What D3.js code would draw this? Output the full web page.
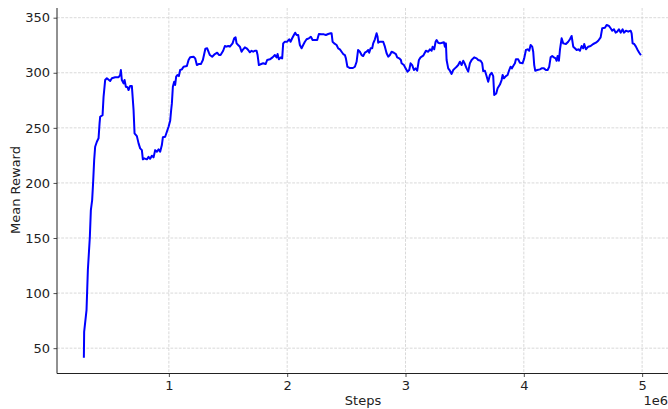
<!DOCTYPE html>
<html>
<head>
<meta charset="utf-8">
<script src="https://cdn.jsdelivr.net/npm/d3@7"></script>
<style>
  html, body { margin: 0; padding: 0; background: #fff; }
  svg { display: block; font-family: "DejaVu Sans", sans-serif; }
</style>
</head>
<body>
<svg id="chart" width="668" height="409"></svg>
<script>
// Training curve: smoothed mean episode reward against environment steps
const steps = [
  281500, 284000, 304000, 315300, 332200, 340700, 351600, 360100, 368600, 377000,
  391400, 405700, 414200, 419300, 439600, 448000, 461500, 475900, 503800, 518200,
  546100, 574800, 588300, 594300, 602700, 617100, 625500, 636500, 650900, 659300,
  672900, 687200, 701600, 710000, 729500, 743900, 757400, 771800, 780200, 791200,
  814000, 828400, 841900, 856300, 870700, 884200, 898600, 912900, 926500, 940800,
  949300, 968700, 983100, 997500, 1011000, 1019400, 1025400, 1033800, 1044800, 1053200,
  1061700, 1073500, 1084500, 1095500, 1109900, 1124200, 1152100, 1166500, 1180000, 1208800,
  1222300, 1236700, 1251000, 1270500, 1287400, 1308500, 1323700, 1338100, 1346600, 1366000,
  1388800, 1408300, 1425200, 1437000, 1459000, 1473400, 1487700, 1501300, 1515600, 1538400,
  1552000, 1563800, 1572300, 1585800, 1600200, 1614500, 1628000, 1642400, 1656800, 1670300,
  1684700, 1699100, 1712600, 1727000, 1741300, 1749800, 1760800, 1775100, 1797100, 1817400,
  1830900, 1853700, 1876600, 1896000, 1910400, 1918800, 1929800, 1946700, 1957700, 1966200,
  1980600, 2000000, 2016900, 2028700, 2042200, 2056600, 2067600, 2079400, 2093000, 2107300,
  2121700, 2135200, 2149600, 2164000, 2183400, 2200300, 2214700, 2234100, 2253600, 2268000,
  2290800, 2310200, 2327100, 2346600, 2366800, 2375300, 2383700, 2397300, 2417500, 2431100,
  2445500, 2459800, 2473400, 2487700, 2496200, 2508900, 2530000, 2555300, 2572200, 2586600,
  2599300, 2614500, 2628900, 2642400, 2656800, 2671100, 2684700, 2693100, 2705000, 2718500,
  2727000, 2741400, 2755700, 2764100, 2769200, 2783600, 2811500, 2825800, 2840200, 2853700,
  2868100, 2882500, 2901900, 2918800, 2929800, 2946700, 2961100, 2967000, 2986500, 3000800,
  3017700, 3031300, 3043100, 3056600, 3071000, 3085300, 3098900, 3113200, 3127600, 3149600,
  3172400, 3191900, 3206200, 3220600, 3229100, 3242600, 3254400, 3262900, 3276400, 3290800,
  3310300, 3324600, 3333100, 3341500, 3347400, 3361000, 3375300, 3389700, 3403200, 3417600,
  3431900, 3445500, 3459800, 3474200, 3487700, 3502100, 3516400, 3530000, 3544300, 3558700,
  3580700, 3601000, 3614500, 3634800, 3648300, 3656700, 3671100, 3683800, 3699000, 3713400,
  3727800, 3741300, 3749800, 3766700, 3778500, 3798000, 3812300, 3820800, 3831800, 3848700,
  3863100, 3876600, 3888400, 3899400, 3910400, 3924800, 3933200, 3952700, 3967000, 3989900,
  4003400, 4017700, 4032100, 4045600, 4057400, 4071000, 4079400, 4087900, 4096300, 4113200,
  4136100, 4150400, 4169900, 4186800, 4201100, 4214700, 4226500, 4240000, 4254400, 4268800,
  4277200, 4285700, 4296700, 4305200, 4319500, 4333000, 4355900, 4375300, 4389700, 4404000,
  4417600, 4432000, 4446300, 4459900, 4474200, 4488600, 4502100, 4510500, 4524900, 4544400,
  4564600, 4586600, 4609400, 4628900, 4649200, 4662700, 4685500, 4699900, 4719300, 4733700,
  4747200, 4761600, 4775900, 4789500, 4803800, 4818200, 4835100, 4846100, 4863000, 4882400,
  4902700, 4911200, 4919600, 4933200, 4947600, 4961900, 4975400, 4989900
];
const meanReward = [
  41.2, 64.8, 84.5, 120.8, 151.1, 175.3, 184.4, 201.0, 220.7, 232.8,
  237.4, 240.5, 254.1, 260.1, 261.6, 278.2, 293.4, 295.0, 292.5, 295.0,
  295.9, 295.9, 298.0, 302.5, 293.4, 290.4, 293.4, 287.3, 286.8, 284.3,
  288.0, 288.0, 266.2, 245.0, 242.5, 235.9, 231.4, 229.8, 221.4, 222.3,
  221.4, 223.7, 221.9, 224.7, 223.2, 229.8, 228.3, 230.5, 228.3, 234.4,
  241.4, 241.9, 246.5, 251.0, 256.4, 266.2, 272.2, 287.3, 291.9, 288.9,
  296.4, 298.0, 297.0, 302.5, 303.1, 305.5, 306.1, 311.6, 314.0, 314.6,
  313.1, 307.0, 307.9, 307.9, 311.6, 321.8, 322.2, 318.2, 316.1, 314.6,
  317.0, 318.2, 316.1, 316.1, 320.0, 324.3, 323.7, 324.3, 323.7, 326.7,
  331.3, 332.2, 326.7, 325.2, 323.7, 319.1, 321.3, 323.1, 322.2, 320.7,
  318.6, 320.0, 319.1, 320.0, 320.0, 316.1, 307.0, 307.7, 308.6, 307.9,
  311.6, 312.2, 314.0, 316.1, 314.0, 317.0, 312.2, 314.0, 313.1, 326.7,
  328.2, 328.2, 330.4, 328.2, 331.3, 334.3, 336.4, 334.3, 334.3, 325.2,
  322.2, 325.2, 328.2, 330.4, 331.3, 332.7, 329.7, 329.7, 329.7, 335.2,
  334.9, 334.9, 334.3, 335.2, 335.8, 335.8, 328.2, 326.7, 325.2, 322.2,
  321.3, 319.1, 317.0, 316.1, 313.1, 305.5, 304.3, 304.3, 305.5, 310.0,
  320.7, 319.1, 316.1, 315.2, 318.2, 319.1, 320.7, 318.2, 322.2, 322.2,
  326.7, 330.4, 335.8, 332.7, 327.3, 328.2, 328.2, 323.7, 317.7, 314.6,
  316.1, 319.1, 318.2, 317.0, 314.0, 313.1, 311.6, 308.6, 307.0, 304.0,
  301.0, 302.5, 308.6, 307.0, 302.5, 304.0, 301.9, 311.6, 314.0, 315.5,
  320.0, 319.1, 321.3, 320.0, 323.7, 321.3, 328.2, 329.7, 327.3, 326.7,
  327.3, 327.7, 323.7, 326.7, 311.6, 304.0, 301.9, 298.9, 302.5, 304.0,
  305.5, 307.0, 310.0, 307.0, 310.9, 307.9, 304.0, 301.0, 308.6, 311.6,
  314.0, 313.1, 311.6, 310.9, 308.6, 301.6, 301.9, 297.5, 291.9, 298.0,
  300.0, 297.0, 279.8, 281.2, 285.9, 289.3, 293.4, 298.0, 295.0, 297.0,
  298.0, 302.5, 305.5, 304.0, 306.1, 308.6, 312.2, 312.2, 309.1, 308.6,
  313.1, 320.7, 321.3, 320.0, 325.2, 323.7, 319.1, 307.0, 301.9, 302.5,
  303.1, 304.0, 304.0, 302.5, 302.5, 305.5, 314.0, 315.2, 314.0, 313.1,
  310.9, 315.2, 310.9, 320.7, 331.3, 326.7, 326.1, 328.2, 330.4, 333.4,
  323.7, 322.2, 320.7, 321.3, 320.0, 324.3, 322.2, 326.1, 321.3, 323.7,
  324.3, 326.1, 327.3, 329.1, 332.2, 340.4, 340.9, 343.4, 342.5, 340.4,
  338.2, 339.5, 336.4, 337.3, 339.5, 336.4, 339.5, 336.4, 338.2, 337.3,
  338.2, 335.8, 326.7, 326.1, 323.7, 320.7, 318.2, 316.1
];
const xTickValues = [1000000, 2000000, 3000000, 4000000, 5000000];
const yTickValues = [50, 100, 150, 200, 250, 300, 350];
const xLabel = "Steps";
const yLabel = "Mean Reward";
const xOffsetLabel = "1e6";

const svg = d3.select("#chart");
const plot = { left: 57, right: 670, top: 8, bottom: 373.5 };

const x = d3.scaleLinear().domain([54500, 5235500]).range([plot.left, plot.right]);
const y = d3.scaleLinear().domain([27, 358.8]).range([plot.bottom, plot.top]);

// dashed grid
const grid = svg.append("g").attr("stroke", "#cfcfcf").attr("stroke-width", 0.8)
  .attr("stroke-dasharray", "2.8,1.4");
grid.selectAll("line.gx").data(xTickValues).join("line")
  .attr("x1", d => x(d)).attr("x2", d => x(d))
  .attr("y1", plot.top).attr("y2", plot.bottom);
grid.selectAll("line.gy").data(yTickValues).join("line")
  .attr("x1", plot.left).attr("x2", plot.right)
  .attr("y1", d => y(d)).attr("y2", d => y(d));

// reward curve
const line = d3.line().x((d, i) => x(steps[i])).y(d => y(d));
svg.append("path")
  .datum(meanReward)
  .attr("d", line)
  .attr("fill", "none")
  .attr("stroke", "#0000ff")
  .attr("stroke-width", 2)
  .attr("stroke-linejoin", "round")
  .attr("stroke-linecap", "butt");

// axes
const xAxis = d3.axisBottom(x).tickValues(xTickValues)
  .tickFormat(d => d3.format("d")(d / 1e6)).tickSize(3.5).tickPadding(3.5);
const yAxis = d3.axisLeft(y).tickValues(yTickValues).tickSize(3.5).tickPadding(3.5);

const gx = svg.append("g").attr("transform", `translate(0,${plot.bottom})`).call(xAxis);
const gy = svg.append("g").attr("transform", `translate(${plot.left},0)`).call(yAxis);
[gx, gy].forEach(g => {
  g.select(".domain").attr("stroke", "#222").attr("stroke-width", 1);
  g.selectAll(".tick line").attr("stroke", "#222").attr("stroke-width", 0.8);
  g.selectAll(".tick text").attr("fill", "#222").attr("font-size", 13)
    .attr("font-family", "DejaVu Sans, sans-serif");
});
gy.select(".domain").attr("d", `M0,${plot.top}V${plot.bottom}`);
gx.select(".domain").attr("d", `M${plot.left},0H${plot.right}`);

// axis labels
svg.append("text").attr("x", 363).attr("y", 405).attr("text-anchor", "middle")
  .attr("font-size", 13).attr("fill", "#222").text(xLabel);
svg.append("text").attr("transform", "translate(20,190) rotate(-90)")
  .attr("text-anchor", "middle").attr("font-size", 13).attr("fill", "#222").text(yLabel);
svg.append("text").attr("x", 668).attr("y", 405).attr("text-anchor", "end")
  .attr("font-size", 13).attr("fill", "#222").text(xOffsetLabel);
</script>
</body>
</html>
